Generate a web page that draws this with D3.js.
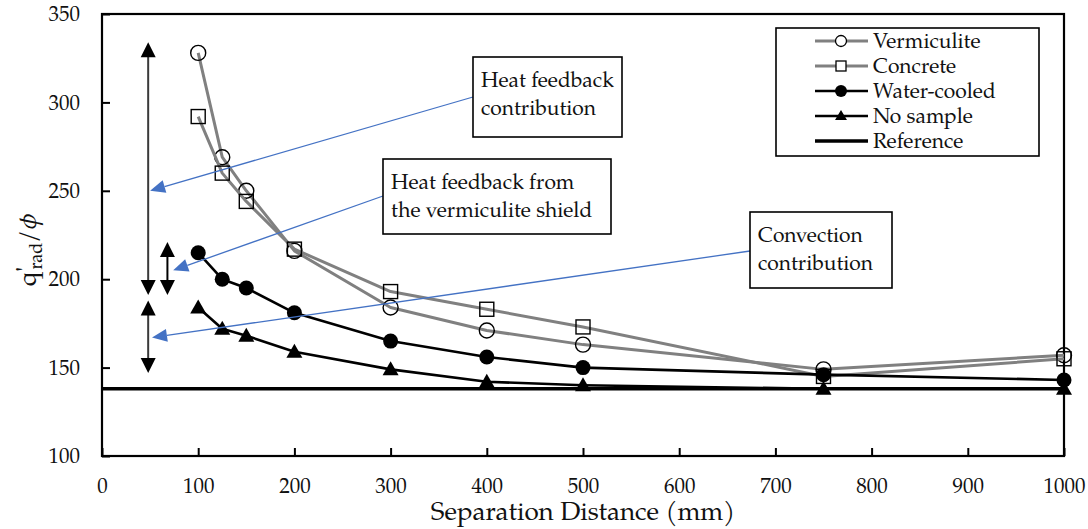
<!DOCTYPE html>
<html>
<head>
<meta charset="utf-8">
<script src="https://cdn.jsdelivr.net/npm/d3@7"></script>
<style>
  html, body { margin: 0; padding: 0; background: #fff; }
  svg { display: block; }
  svg text { font-family: "TeX Gyre Pagella", "Liberation Serif", serif; }
</style>
</head>
<body>
<svg id="chart" width="1088" height="529"></svg>
<script>
// Separation distance (mm)
const distances = [100, 125, 150, 200, 300, 400, 500, 750, 1000];

// Normalised radiant heat flux for each configuration
const vermiculite = [328, 269, 250, 216, 184, 171, 163, 149, 157];
const concrete    = [292, 260, 244, 217, 193, 183, 173, 145, 155];
const waterCooled = [215, 200, 195, 181, 165, 156, 150, 146, 143];
const noSample    = [184, 172, 168, 159, 149, 142, 140, 138, 138];
const referenceLevel = 138;

const seriesNames = ["Vermiculite", "Concrete", "Water-cooled", "No sample", "Reference"];

const xTicks = [0, 100, 200, 300, 400, 500, 600, 700, 800, 900, 1000];
const yTicks = [100, 150, 200, 250, 300, 350];

// Vertical span arrows marking the contributions (x in mm, ends in flux units)
const spanX    = [48, 68, 48];
const spanTop  = [334, 221, 188];
const spanBot  = [191, 191, 147];

// Callout texts and the point each one points to (mm, flux units)
const calloutLines = [
  ["Heat feedback", "contribution"],
  ["Heat feedback from", "the vermiculite shield"],
  ["Convection", "contribution"]
];
const calloutTargetX = [50, 74, 52];
const calloutTargetY = [250, 205, 167];

// ---------------------------------------------------------------
const svg = d3.select("#chart");
const plot = { left: 102, right: 1064, top: 14, bottom: 456 };

const x = d3.scaleLinear().domain([0, 1000]).range([plot.left, plot.right]);
const y = d3.scaleLinear().domain([100, 350]).range([plot.bottom, plot.top]);

// Axes with inward ticks
const xAxis = svg.append("g")
  .attr("transform", `translate(0,${plot.bottom})`)
  .call(d3.axisBottom(x).tickValues(xTicks).tickFormat(d3.format("d"))
    .tickSizeInner(-8).tickSizeOuter(0).tickPadding(22));
const yAxis = svg.append("g")
  .attr("transform", `translate(${plot.left},0)`)
  .call(d3.axisLeft(y).tickValues(yTicks).tickFormat(d3.format("d"))
    .tickSizeInner(-8).tickSizeOuter(0).tickPadding(22));

[xAxis, yAxis].forEach(g => {
  g.attr("font-family", null);
  g.select(".domain").remove();
  g.selectAll(".tick line").attr("stroke", "#000").attr("stroke-width", 2);
  g.selectAll(".tick text").attr("fill", "#111").style("font-size", "21px");
});
xAxis.selectAll(".tick text").attr("dy", "0.71em").attr("y", 22);
yAxis.selectAll(".tick text").attr("x", -22);

// Plot frame
svg.append("rect")
  .attr("x", plot.left).attr("y", plot.top)
  .attr("width", plot.right - plot.left).attr("height", plot.bottom - plot.top)
  .attr("fill", "none").attr("stroke", "#000").attr("stroke-width", 2.2);

// Axis titles
svg.append("text")
  .attr("x", 583).attr("y", 520)
  .attr("text-anchor", "middle")
  .style("font-size", "26px").attr("fill", "#111")
  .text("Separation Distance (mm)");

const yTitle = svg.append("text")
  .attr("transform", "translate(36,250) rotate(-90)")
  .attr("text-anchor", "middle")
  .style("font-size", "26px").attr("fill", "#111");
yTitle.append("tspan").text("q");
yTitle.append("tspan").attr("dy", -2).text("'");
yTitle.append("tspan").attr("dx", -3).attr("dy", 8).style("font-size", "18px").text("rad");
yTitle.append("tspan").attr("dy", -6).text("/");
yTitle.append("tspan").style("font-style", "italic").text("ϕ");

// Reference line
svg.append("line")
  .attr("x1", plot.left).attr("x2", plot.right)
  .attr("y1", y(referenceLevel)).attr("y2", y(referenceLevel))
  .attr("stroke", "#000").attr("stroke-width", 3.5);

const line = d3.line().x(d => x(d[0])).y(d => y(d[1]));
const pairs = vals => distances.map((d, i) => [d, vals[i]]);

const series = [
  { name: seriesNames[0], values: vermiculite, color: "#808080", marker: "openCircle" },
  { name: seriesNames[1], values: concrete,    color: "#808080", marker: "openSquare" },
  { name: seriesNames[2], values: waterCooled, color: "#000",    marker: "dot" },
  { name: seriesNames[3], values: noSample,    color: "#000",    marker: "triangle" }
];

function drawMarker(g, type, cx, cy) {
  if (type === "openCircle") {
    g.append("circle").attr("cx", cx).attr("cy", cy).attr("r", 7.5)
      .attr("fill", "none").attr("stroke", "#000").attr("stroke-width", 1.4);
  } else if (type === "openSquare") {
    g.append("rect").attr("x", cx - 7).attr("y", cy - 7).attr("width", 14).attr("height", 14)
      .attr("fill", "none").attr("stroke", "#000").attr("stroke-width", 1.4);
  } else if (type === "dot") {
    g.append("circle").attr("cx", cx).attr("cy", cy).attr("r", 7.5).attr("fill", "#000");
  } else if (type === "triangle") {
    g.append("path").attr("d", `M${cx},${cy - 8}L${cx + 8},${cy + 6}L${cx - 8},${cy + 6}Z`).attr("fill", "#000");
  }
}

series.forEach(s => {
  const pts = pairs(s.values);
  svg.append("path").datum(pts)
    .attr("d", line).attr("fill", "none")
    .attr("stroke", s.color).attr("stroke-width", s.color === "#000" ? 2.6 : 3)
    .attr("stroke-linejoin", "round");
  const mg = svg.append("g");
  pts.forEach(p => drawMarker(mg, s.marker, x(p[0]), y(p[1])));
});

// Span arrows (double headed)
function arrowHead(g, cx, tipY, dir, w, h) {
  // dir = -1 points up, +1 points down
  g.append("path")
    .attr("d", `M${cx},${tipY}L${cx + w / 2},${tipY - dir * h}L${cx - w / 2},${tipY - dir * h}Z`)
    .attr("fill", "#000");
}
spanX.forEach((sx, i) => {
  const g = svg.append("g");
  const cx = x(sx), yt = y(spanTop[i]), yb = y(spanBot[i]);
  g.append("line").attr("x1", cx).attr("x2", cx).attr("y1", yt + 8).attr("y2", yb - 8)
    .attr("stroke", i === 1 ? "#000" : "#3a3a3a").attr("stroke-width", 2);
  arrowHead(g, cx, yt, -1, 15, 15);
  arrowHead(g, cx, yb, 1, 15, 15);
});

// Callout boxes with blue leader arrows
const calloutBoxes = [
  { x: 473, y: 57,  w: 149, h: 80, anchorY: 97 },
  { x: 383, y: 159, w: 228, h: 75, anchorY: 196 },
  { x: 750, y: 212, w: 142, h: 76, anchorY: 251 }
];
const blue = "#4472C4";

calloutBoxes.forEach((b, i) => {
  const tx = x(calloutTargetX[i]), ty = y(calloutTargetY[i]);
  const sx = b.x, sy = b.anchorY;
  const ang = Math.atan2(ty - sy, tx - sx);
  const headLen = 15, headW = 6.5;
  const bx = tx - headLen * Math.cos(ang), by = ty - headLen * Math.sin(ang);
  svg.append("line").attr("x1", sx).attr("y1", sy).attr("x2", bx).attr("y2", by)
    .attr("stroke", blue).attr("stroke-width", 1.3);
  const px = -Math.sin(ang) * headW, py = Math.cos(ang) * headW;
  svg.append("path")
    .attr("d", `M${tx},${ty}L${bx + px},${by + py}L${bx - px},${by - py}Z`)
    .attr("fill", blue);

  svg.append("rect").attr("x", b.x).attr("y", b.y).attr("width", b.w).attr("height", b.h)
    .attr("fill", "#fff").attr("stroke", "#000").attr("stroke-width", 1.6);
  const t = svg.append("text").attr("x", b.x + 8).attr("y", b.y + 30)
    .style("font-size", "21px").attr("fill", "#111");
  calloutLines[i].forEach((ln, j) => {
    t.append("tspan").attr("x", b.x + 8).attr("dy", j === 0 ? 0 : 28).text(ln);
  });
});

// Legend
const legend = svg.append("g");
legend.append("rect").attr("x", 776).attr("y", 28).attr("width", 263).attr("height", 128)
  .attr("fill", "#fff").attr("stroke", "#000").attr("stroke-width", 1.6);
const legendItems = [
  { color: "#808080", marker: "openCircle", w: 3 },
  { color: "#808080", marker: "openSquare", w: 3 },
  { color: "#000", marker: "dot", w: 2.6 },
  { color: "#000", marker: "triangle", w: 2.6 },
  { color: "#000", marker: null, w: 3.5 }
];
legendItems.forEach((it, i) => {
  const cy = 41 + i * 25;
  legend.append("line").attr("x1", 815).attr("x2", 868).attr("y1", cy).attr("y2", cy)
    .attr("stroke", it.color).attr("stroke-width", it.w);
  if (it.marker) {
    const g = legend.append("g");
    if (it.marker === "openCircle") {
      g.append("circle").attr("cx", 841).attr("cy", cy).attr("r", 5.5)
        .attr("fill", "#fff").attr("stroke", "#000").attr("stroke-width", 1.3);
    } else if (it.marker === "openSquare") {
      g.append("rect").attr("x", 836).attr("y", cy - 5).attr("width", 10).attr("height", 10)
        .attr("fill", "#fff").attr("stroke", "#000").attr("stroke-width", 1.3);
    } else if (it.marker === "dot") {
      g.append("circle").attr("cx", 841).attr("cy", cy).attr("r", 6).attr("fill", "#000");
    } else {
      g.append("path").attr("d", `M841,${cy - 6}L847,${cy + 4}L835,${cy + 4}Z`).attr("fill", "#000");
    }
  }
  legend.append("text").attr("x", 873).attr("y", cy + 7)
    .style("font-size", "21px").attr("fill", "#111").text(seriesNames[i]);
});
</script>
</body>
</html>
